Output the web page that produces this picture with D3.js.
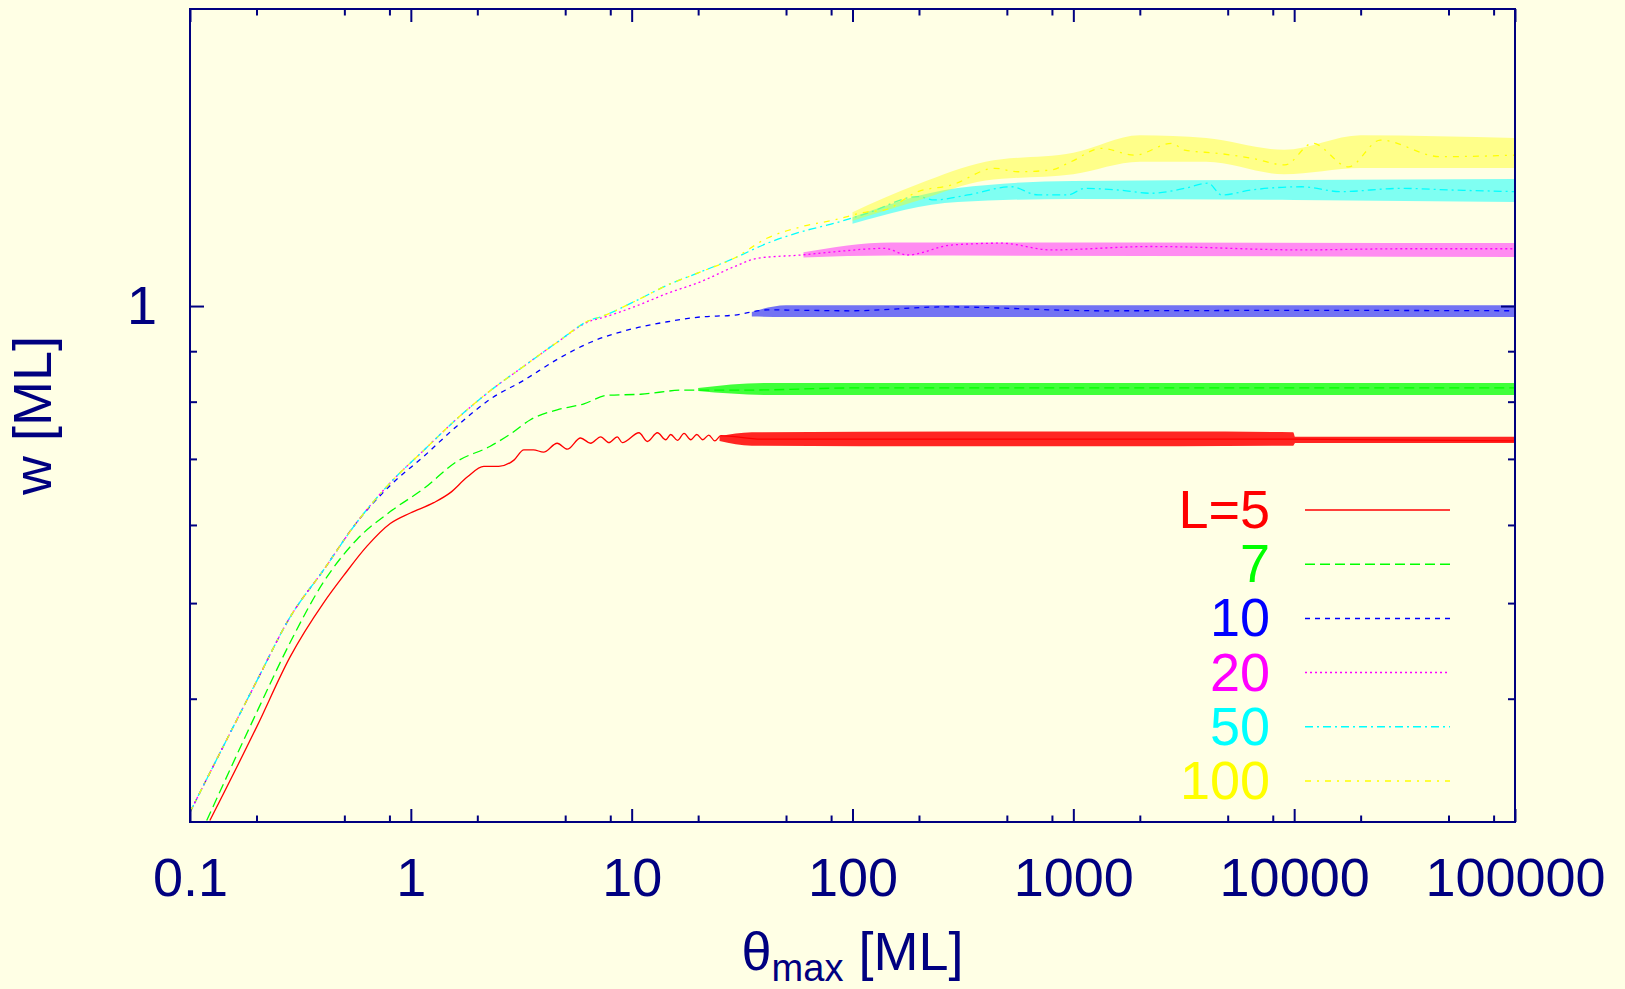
<!DOCTYPE html>
<html>
<head>
<meta charset="utf-8">
<script src="https://cdn.jsdelivr.net/npm/d3@7"></script>
<style>
body { margin: 0; background: #ffffe5; }
svg { display: block; }
</style>
</head>
<body>
<div id="chart"></div>
<script>
// curves, [theta_max, w]
var labels = ['L=5', '7', '10', '20', '50', '100'];
var colors = ['#ff0000', '#00ff00', '#0000ff', '#ff00ff', '#00ffff', '#ffff00'];
var dashes = [null, '10,5', '5,5', '2,3', '8,4,2,4', '6,6,2,6'];

var curveL5 = [[0.123,0.301],[0.201,0.375],[0.284,0.441],[0.402,0.500],[0.496,0.533],[0.633,0.571],
    [0.807,0.602],[0.995,0.617],[1.27,0.632],[1.51,0.647],[1.80,0.671],[2.14,0.688],[2.50,0.688],
    [2.93,0.698],[3.25,0.715],[3.59,0.715],[3.99,0.711],[4.60,0.726],[5.11,0.716],[5.87,0.735],
    [6.52,0.726],[7.24,0.737],[7.89,0.727],[8.61,0.737],[9.07,0.727],[10.79,0.744],[11.78,0.729],
    [13.08,0.744],[14.27,0.732],[15.03,0.741],[16.12,0.731],[17.27,0.743],[18.52,0.732],[19.72,0.741],
    [20.99,0.732],[22.35,0.740],[23.79,0.730],[25.33,0.739],[38.5,0.733],[100,0.733],[1000,0.733],
    [10000,0.733],[100000,0.730]];
var curveL7 = [[0.119,0.301],[0.201,0.388],[0.284,0.456],[0.402,0.525],[0.570,0.580],[0.807,0.619],
    [1.143,0.653],[1.62,0.696],[2.29,0.721],[2.83,0.742],[3.48,0.767],[4.60,0.785],[6.08,0.796],
    [7.76,0.812],[10.98,0.814],[17.3,0.822],[34.6,0.822],[100,0.826],[1000,0.826],[10000,0.826],
    [100000,0.826]];
var curveL10 = [[0.1,0.307],[0.1416,0.358],[0.2007,0.417],[0.2841,0.484],[0.4022,0.540],[0.5702,0.604],
    [0.807,0.658],[1.143,0.704],[1.62,0.756],[2.294,0.805],[3.249,0.841],[4.603,0.883],[6.517,0.919],
    [10.24,0.949],[14.52,0.964],[20.56,0.975],[29.0,0.979],[41.2,0.991],[98.4,0.989],[261,0.998],
    [1340,0.989],[10815,0.990],[100000,0.989]];
var curveL20 = [[0.1,0.307],[0.1416,0.358],[0.2007,0.417],[0.2841,0.484],[0.4022,0.540],[0.5702,0.604],
    [0.807,0.662],[1.143,0.714],[1.62,0.769],[2.294,0.821],[3.249,0.869],[4.603,0.919],[6.517,0.966],
    [7.235,0.972],[10.24,0.998],[14.52,1.030],[20.56,1.0585],[29.1,1.096],[37.2,1.118],[58.4,1.1265],
    [82.7,1.135],[139,1.144],[178,1.1265],[280,1.153],[472,1.158],[795,1.140],[2258,1.149],
    [10815,1.140],[30720,1.143],[100000,1.143]];
var curveL50 = [[0.1,0.307],[0.1416,0.358],[0.2007,0.417],[0.2841,0.484],[0.4022,0.540],[0.5702,0.604],
    [0.807,0.662],[1.143,0.714],[1.62,0.769],[2.294,0.821],[3.249,0.869],[4.603,0.919],[6.517,0.968],
    [7.235,0.975],[10.24,1.010],[14.52,1.050],[20.56,1.083],[29.1,1.118],[41.2,1.158],[58.4,1.189],
    [82.7,1.213],[117,1.242],[198,1.291],[235,1.281],[333,1.296],[523,1.321],[692,1.296],[946,1.296],
    [1125,1.316],[1595,1.311],[2258,1.301],[3197,1.316],[4083,1.332],[4691,1.296],[6418,1.311],
    [10815,1.321],[16218,1.306],[30280,1.316],[51800,1.311],[100000,1.306]];
var curveL100 = [[0.1,0.307],[0.1416,0.358],[0.2007,0.417],[0.2841,0.484],[0.4022,0.540],[0.5702,0.604],
    [0.807,0.662],[1.143,0.714],[1.62,0.769],[2.294,0.821],[3.249,0.869],[4.603,0.919],[6.517,0.968],
    [7.235,0.975],[10.24,1.010],[14.52,1.050],[20.56,1.083],[29.1,1.118],[41.2,1.172],[58.4,1.203],
    [82.7,1.2225],[117,1.246],[139,1.251],[198,1.306],[280,1.326],[440,1.379],[561,1.368],[795,1.374],
    [979,1.401],[1340,1.445],[1897,1.422],[2782,1.462],[3197,1.439],[4532,1.428],[6418,1.412],
    [9085,1.390],[12120,1.462],[17610,1.384],[24580,1.473],[45890,1.417],[100000,1.422]];

// spread of the noisy plateau, [theta_max, w low, w high]
var bandL5 = [[25,0.730,0.738],[35,0.722,0.745],[300,0.721,0.746],[3000,0.721,0.746],[9900,0.722,0.745],
    [10100,0.7265,0.737],[100000,0.7265,0.737]];
var bandL7 = [[20,0.820,0.826],[40,0.8127,0.8356],[100000,0.8127,0.8356]];
var bandL10 = [[35,0.976,0.986],[50,0.975,1.002],[100000,0.975,1.002]];
var bandL20 = [[60,1.120,1.134],[150,1.125,1.160],[100000,1.121,1.1585]];
var bandL50 = [[100,1.212,1.230],[300,1.275,1.317],[1000,1.284,1.339],[10000,1.281,1.342],[100000,1.275,1.345]];
var bandL100 = [[100,1.22,1.245],[200,1.28,1.33],[400,1.34,1.40],[1000,1.36,1.43],[2000,1.40,1.49],
    [4000,1.40,1.48],[9000,1.36,1.44],[20000,1.38,1.49],[100000,1.38,1.48]];
var bandOpacity = [0.85, 0.75, 0.55, 0.45, 0.5, 0.4];

var xMajor = [0.1, 1, 10, 100, 1000, 10000, 100000];
var xMinor = [0.2, 0.5, 0.8, 2, 5, 8, 20, 50, 80, 200, 500, 800, 2000, 5000, 8000, 20000, 50000, 80000];
var yMajor = [1];
var yMinor = [0.4, 0.5, 0.6, 0.7, 0.8, 0.9];

var curves = [curveL5, curveL7, curveL10, curveL20, curveL50, curveL100];
var bands = [bandL5, bandL7, bandL10, bandL20, bandL50, bandL100];

var navy = '#000080';
var font = '"Liberation Sans", Arial, Helvetica, sans-serif';
var plotL = 190, plotR = 1515, plotT = 9, plotB = 822;

var svg = d3.select('#chart')
    .append('svg')
    .attr('width', 1625)
    .attr('height', 989);

svg.append('rect')
    .attr('width', 1625)
    .attr('height', 989)
    .attr('fill', '#ffffe5');

var x = d3.scaleLog().domain([0.1, 100000]).range([plotL, plotR]);
var y = d3.scaleLog().domain([0.3, 2]).range([plotB, plotT]);

svg.append('clipPath')
    .attr('id', 'plot')
    .append('rect')
    .attr('x', plotL)
    .attr('y', plotT)
    .attr('width', plotR - plotL)
    .attr('height', plotB - plotT);

var line = d3.line()
    .curve(d3.curveMonotoneX)
    .x(d => x(d[0]))
    .y(d => y(d[1]));

var area = d3.area()
    .curve(d3.curveMonotoneX)
    .x(d => x(d[0]))
    .y0(d => y(d[1]))
    .y1(d => y(d[2]));

var plot = svg.append('g').attr('clip-path', 'url(#plot)');

curves.forEach(function(c, i) {
    plot.append('path')
        .datum(bands[i])
        .attr('d', area)
        .attr('fill', colors[i])
        .attr('fill-opacity', bandOpacity[i]);
    plot.append('path')
        .datum(c)
        .attr('d', line)
        .attr('fill', 'none')
        .attr('stroke', colors[i])
        .attr('stroke-width', 1.3)
        .attr('stroke-dasharray', dashes[i]);
});

// axes, ticks pointing inwards on all four sides
function styleAxis(g) {
    g.select('.domain').remove();
    g.selectAll('.tick line').attr('stroke', navy).attr('stroke-width', 2);
    g.selectAll('.tick text')
        .attr('fill', navy)
        .style('font-family', font)
        .style('font-size', '54px');
}

svg.append('g')
    .attr('transform', `translate(0,${plotB})`)
    .call(d3.axisBottom(x).tickValues(xMajor).tickSizeInner(-13).tickSizeOuter(0)
        .tickPadding(36).tickFormat(d3.format('~g')))
    .call(styleAxis);
svg.append('g')
    .attr('transform', `translate(0,${plotB})`)
    .call(d3.axisBottom(x).tickValues(xMinor).tickSizeInner(-6.5).tickSizeOuter(0).tickFormat(''))
    .call(styleAxis);
svg.append('g')
    .attr('transform', `translate(0,${plotT})`)
    .call(d3.axisTop(x).tickValues(xMajor).tickSizeInner(-13).tickSizeOuter(0).tickFormat(''))
    .call(styleAxis);
svg.append('g')
    .attr('transform', `translate(0,${plotT})`)
    .call(d3.axisTop(x).tickValues(xMinor).tickSizeInner(-6.5).tickSizeOuter(0).tickFormat(''))
    .call(styleAxis);

svg.append('g')
    .attr('transform', `translate(${plotL},0)`)
    .call(d3.axisLeft(y).tickValues(yMajor).tickSizeInner(-14).tickSizeOuter(0)
        .tickPadding(33).tickFormat(d3.format('~g')))
    .call(styleAxis);
svg.append('g')
    .attr('transform', `translate(${plotL},0)`)
    .call(d3.axisLeft(y).tickValues(yMinor).tickSizeInner(-7).tickSizeOuter(0).tickFormat(''))
    .call(styleAxis);
svg.append('g')
    .attr('transform', `translate(${plotR},0)`)
    .call(d3.axisRight(y).tickValues(yMajor).tickSizeInner(-14).tickSizeOuter(0).tickFormat(''))
    .call(styleAxis);
svg.append('g')
    .attr('transform', `translate(${plotR},0)`)
    .call(d3.axisRight(y).tickValues(yMinor).tickSizeInner(-7).tickSizeOuter(0).tickFormat(''))
    .call(styleAxis);

svg.append('rect')
    .attr('x', plotL)
    .attr('y', plotT)
    .attr('width', plotR - plotL)
    .attr('height', plotB - plotT)
    .attr('fill', 'none')
    .attr('stroke', navy)
    .attr('stroke-width', 2);

// axis titles
var xTitle = svg.append('text')
    .attr('x', (plotL + plotR) / 2)
    .attr('y', 970)
    .attr('text-anchor', 'middle')
    .attr('fill', navy)
    .style('font-family', font)
    .style('font-size', '54px');
xTitle.append('tspan').text('θ');
xTitle.append('tspan').attr('dy', 11).style('font-size', '38px').text('max');
xTitle.append('tspan').attr('dy', -11).text(' [ML]');

svg.append('text')
    .attr('transform', `translate(51,${(plotT + plotB) / 2}) rotate(-90)`)
    .attr('text-anchor', 'middle')
    .attr('fill', navy)
    .style('font-family', font)
    .style('font-size', '54px')
    .text('w [ML]');

// legend
labels.forEach(function(name, i) {
    var ly = 510 + 54.2 * i;
    svg.append('text')
        .attr('x', 1270)
        .attr('y', ly + 18)
        .attr('text-anchor', 'end')
        .attr('fill', colors[i])
        .style('font-family', font)
        .style('font-size', '54px')
        .text(name);
    svg.append('line')
        .attr('x1', 1305)
        .attr('x2', 1450)
        .attr('y1', ly)
        .attr('y2', ly)
        .attr('stroke', colors[i])
        .attr('stroke-width', 1.5)
        .attr('stroke-dasharray', dashes[i]);
});
</script>
</body>
</html>
